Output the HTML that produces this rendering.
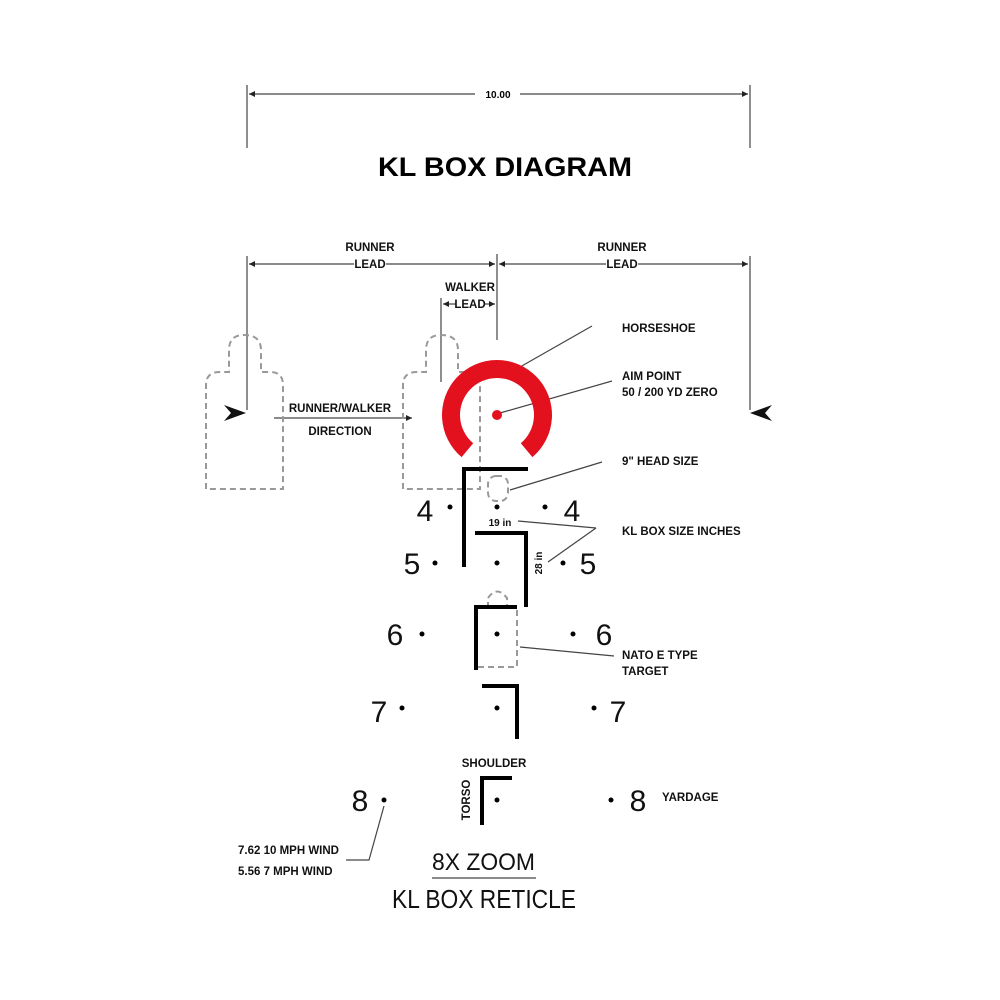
<!DOCTYPE html>
<html><head><meta charset="utf-8"><style>html,body{margin:0;padding:0;background:#fff}svg{display:block}text{font-family:"Liberation Sans",sans-serif}</style></head>
<body>
<svg width="1000" height="1000" viewBox="0 0 1000 1000" xmlns="http://www.w3.org/2000/svg">
<defs>
<marker id="a" viewBox="0 0 10 10" refX="10" refY="5" markerWidth="7" markerHeight="5" orient="auto-start-reverse"><path d="M0 0L10 5L0 10z" fill="#222"/></marker>
</defs>
<g stroke="#444" stroke-width="1.2" fill="none">
<line x1="247" y1="85" x2="247" y2="148"/><line x1="750" y1="85" x2="750" y2="148"/>
<line x1="249" y1="94" x2="475" y2="94" marker-start="url(#a)"/><line x1="520" y1="94" x2="748" y2="94" marker-end="url(#a)"/>
<line x1="247" y1="256" x2="247" y2="410"/><line x1="750" y1="256" x2="750" y2="410"/><line x1="497" y1="254" x2="497" y2="340"/>
<line x1="249" y1="264" x2="495" y2="264" marker-start="url(#a)" marker-end="url(#a)"/>
<line x1="499" y1="264" x2="748" y2="264" marker-start="url(#a)" marker-end="url(#a)"/>
<line x1="441" y1="298" x2="441" y2="382"/>
<line x1="443" y1="304" x2="458" y2="304" marker-start="url(#a)"/><line x1="484" y1="304" x2="495" y2="304" marker-end="url(#a)"/>
<line x1="274" y1="418" x2="412" y2="418" marker-end="url(#a)"/>
<line x1="520" y1="367" x2="592" y2="326"/>
<line x1="500" y1="413" x2="612" y2="381"/>
<line x1="510" y1="490" x2="602" y2="462"/>
<line x1="518" y1="521" x2="596" y2="528"/><line x1="548" y1="562" x2="596" y2="528"/>
<line x1="520" y1="647" x2="614" y2="656"/>
<polyline points="346,860 369,860 384,806"/>
<line x1="432" y1="878" x2="536" y2="878"/>
</g>
<rect x="354" y="257" width="32" height="14" fill="#fff"/>
<rect x="606" y="257" width="32" height="14" fill="#fff"/>
<rect x="456" y="297" width="28" height="14" fill="#fff"/>
<g stroke="#999" stroke-width="2" stroke-dasharray="6,4" fill="none">
<path d="M206 489 V385 Q206 372 220 372 H229 V350 Q229 335 244 335 Q261 335 261 350 V372 H270 Q283 372 283 385 V489 Z"/>
<path d="M403 489 V385 Q403 372 417 372 H426 V350 Q426 335 441 335 Q458 335 458 350 V372 H467 Q480 372 480 385 V489 Z"/>
<rect x="488" y="476" width="20" height="25" rx="8"/>
<path d="M477 608 V667 H517 V608 Z M488 608 V598 Q497 585 507 598 V608"/>
</g>
<path d="M461.6 457.1 A55 55 0 1 1 532.4 457.1 L520.8 443.3 A37 37 0 1 0 473.2 443.3 Z" fill="#e3101e"/>
<circle cx="497" cy="415" r="5" fill="#e3101e"/>
<path d="M224 405 L246 413 L224 421 L231 413Z" fill="#111"/>
<path d="M772 405 L750 413 L772 421 L765 413Z" fill="#111"/>
<g stroke="#000" stroke-width="4" fill="none">
<polyline points="464,567 464,469 528,469"/>
<polyline points="475,533 526,533 526,607"/>
<polyline points="476,670 476,607 517,607"/>
<polyline points="482,686 517,686 517,739"/>
<polyline points="482,825 482,778 512,778"/>
</g>
<g fill="#000">
<circle cx="497" cy="507" r="2.5"/><circle cx="497" cy="563" r="2.5"/><circle cx="497" cy="634" r="2.5"/><circle cx="497" cy="708" r="2.5"/><circle cx="497" cy="800" r="2.5"/>
<circle cx="450" cy="507" r="2.5"/><circle cx="545" cy="507" r="2.5"/>
<circle cx="435" cy="563" r="2.5"/><circle cx="563" cy="563" r="2.5"/>
<circle cx="422" cy="634" r="2.5"/><circle cx="573" cy="634" r="2.5"/>
<circle cx="402" cy="708" r="2.5"/><circle cx="594" cy="708" r="2.5"/>
<circle cx="384" cy="800" r="2.5"/><circle cx="611" cy="800" r="2.5"/>
</g>
<g font-size="30" fill="#111" text-anchor="middle">
<text x="425" y="521">4</text><text x="572" y="521">4</text>
<text x="412" y="574">5</text><text x="588" y="574">5</text>
<text x="395" y="645">6</text><text x="604" y="645">6</text>
<text x="379" y="722">7</text><text x="618" y="722">7</text>
<text x="360" y="811">8</text><text x="638" y="811">8</text>
</g>
<text x="498" y="98" font-size="10" font-weight="bold" text-anchor="middle">10.00</text>
<text x="378" y="176" font-size="27" font-weight="bold" textLength="254" lengthAdjust="spacingAndGlyphs">KL BOX DIAGRAM</text>
<g font-size="11.5" font-weight="bold" fill="#111">
<g text-anchor="middle">
<text x="370" y="251">RUNNER</text><text x="370" y="268">LEAD</text>
<text x="622" y="251">RUNNER</text><text x="622" y="268">LEAD</text>
<text x="470" y="291">WALKER</text><text x="470" y="308">LEAD</text>
<text x="340" y="412">RUNNER/WALKER</text><text x="340" y="435">DIRECTION</text>
<text x="494" y="767">SHOULDER</text>
</g>
<text x="622" y="332">HORSESHOE</text>
<text x="622" y="380">AIM POINT</text><text x="622" y="396">50 / 200 YD ZERO</text>
<text x="622" y="465">9" HEAD SIZE</text>
<text x="622" y="535">KL BOX SIZE INCHES</text>
<text x="622" y="659">NATO E TYPE</text><text x="622" y="675">TARGET</text>
<text x="662" y="801">YARDAGE</text>
<text x="238" y="854">7.62 10 MPH WIND</text><text x="238" y="875">5.56  7 MPH WIND</text>
<text x="500" y="526" font-size="10" text-anchor="middle">19 in</text>
<text transform="translate(542,563) rotate(-90)" font-size="10" text-anchor="middle">28 in</text>
<text transform="translate(470,800) rotate(-90)" text-anchor="middle">TORSO</text>
</g>
<text x="432" y="870" font-size="24" fill="#111" textLength="103" lengthAdjust="spacingAndGlyphs">8X ZOOM</text>
<text x="392" y="908" font-size="26" fill="#111" textLength="184" lengthAdjust="spacingAndGlyphs">KL BOX RETICLE</text>
</svg>
</body></html>
